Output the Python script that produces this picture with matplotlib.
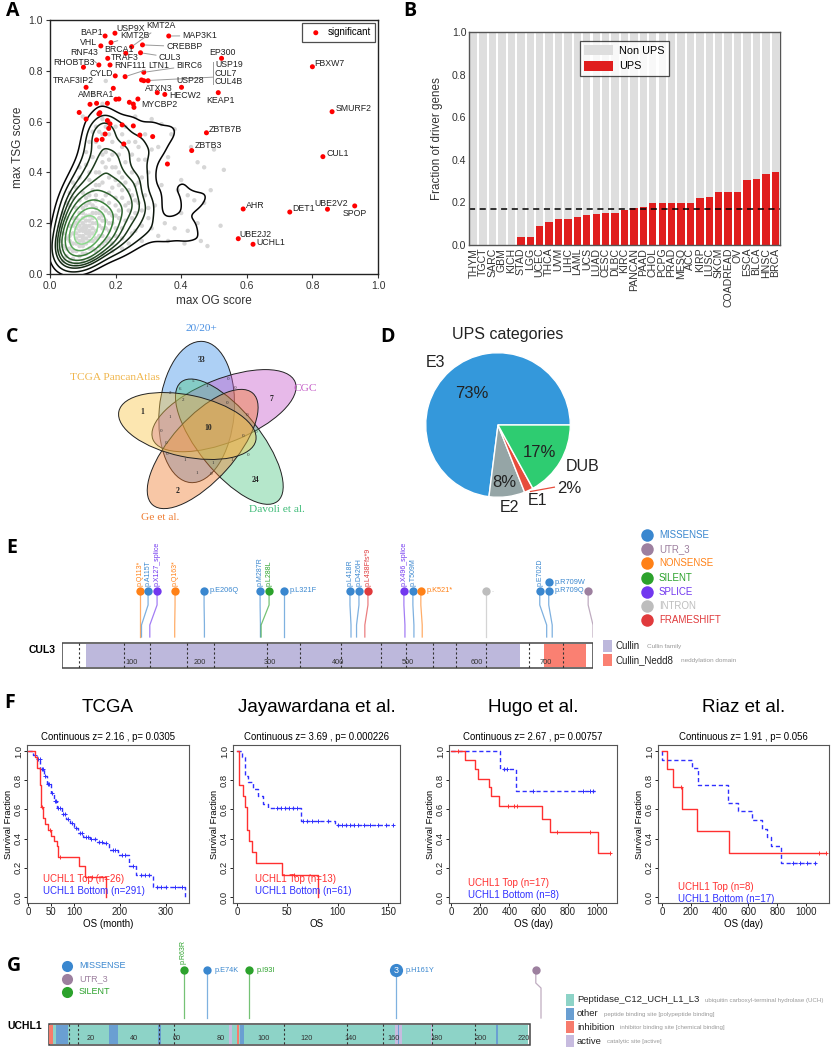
import numpy as np
import matplotlib
matplotlib.use("Agg")
import matplotlib.pyplot as plt
import seaborn as sns
from matplotlib.patches import Ellipse, Rectangle
from matplotlib.colors import LinearSegmentedColormap

plt.rcParams['font.family'] = ['Liberation Sans', 'DejaVu Sans']
plt.rcParams['axes.linewidth'] = 0.8

# ======================= DATA =======================
# ---- Panel A: OG / TSG scores of UPS genes ----
other_genes_xy = [
    (0.05,0.10),(0.06,0.13),(0.07,0.09),(0.07,0.16),(0.08,0.12),(0.08,0.20),(0.09,0.15),(0.09,0.24),
    (0.10,0.11),(0.10,0.18),(0.10,0.22),(0.11,0.14),(0.11,0.19),(0.11,0.27),(0.12,0.16),(0.12,0.21),
    (0.12,0.10),(0.13,0.18),(0.13,0.24),(0.13,0.13),(0.14,0.20),(0.14,0.29),(0.15,0.15),(0.15,0.22),
    (0.16,0.18),(0.16,0.26),(0.17,0.13),(0.17,0.21),(0.18,0.17),(0.18,0.24),(0.06,0.19),(0.07,0.22),
    (0.08,0.26),(0.09,0.29),(0.10,0.32),(0.11,0.08),(0.12,0.06),(0.09,0.07),(0.14,0.09),(0.15,0.11),
    (0.19,0.20),(0.20,0.15),(0.20,0.27),(0.21,0.22),(0.22,0.18),(0.13,0.33),(0.15,0.35),(0.12,0.37),
    (0.17,0.31),(0.19,0.34),(0.10,0.14),(0.11,0.23),(0.12,0.19),(0.13,0.16),(0.14,0.24),(0.09,0.19),
    (0.10,0.26),(0.08,0.16),(0.12,0.28),(0.16,0.21),(0.10,0.17),(0.105,0.19),(0.095,0.175),(0.11,0.165),
    (0.10,0.20),(0.06,0.15),(0.07,0.12),(0.07,0.19),(0.08,0.14),(0.08,0.18),(0.08,0.22),(0.09,0.11),
    (0.09,0.13),(0.09,0.17),(0.09,0.21),(0.10,0.13),(0.10,0.15),(0.10,0.24),(0.11,0.12),(0.11,0.16),
    (0.11,0.18),(0.11,0.21),(0.12,0.13),(0.12,0.15),(0.12,0.17),(0.12,0.23),(0.13,0.20),(0.13,0.22),
    (0.13,0.27),(0.14,0.14),(0.14,0.17),(0.14,0.26),(0.15,0.19),(0.15,0.24),(0.16,0.15),(0.16,0.23),
    (0.17,0.18),(0.17,0.25),(0.18,0.20),(0.19,0.23),(0.05,0.14),(0.06,0.10),(0.07,0.06),(0.08,0.09),
    (0.10,0.08),(0.13,0.10),(0.16,0.12),(0.18,0.14),(0.20,0.18),(0.21,0.25),(0.14,0.31),(0.16,0.29),
    (0.18,0.28),(0.12,0.31),(0.11,0.30),(0.15,0.40),(0.16,0.47),(0.14,0.52),(0.15,0.56),(0.17,0.42),
    (0.18,0.45),(0.20,0.37),(0.22,0.33),(0.24,0.28),(0.26,0.24),
    (0.14,0.40),(0.16,0.44),(0.18,0.38),(0.20,0.42),(0.15,0.50),(0.17,0.48),(0.13,0.46),
    (0.12,0.52),(0.16,0.55),(0.14,0.58),(0.19,0.52),(0.21,0.47),(0.22,0.38),(0.24,0.33),(0.23,0.44),
    (0.25,0.40),(0.26,0.29),(0.27,0.36),(0.28,0.25),(0.25,0.22),(0.23,0.27),(0.29,0.31),(0.30,0.22),
    (0.31,0.18),(0.27,0.45),(0.24,0.52),(0.18,0.60),(0.20,0.58),(0.22,0.55),(0.11,0.43),(0.09,0.38),
    (0.08,0.34),(0.07,0.30),(0.06,0.27),(0.05,0.22),(0.04,0.16),(0.26,0.17),(0.24,0.12),(0.22,0.10),
    (0.19,0.09),(0.28,0.13),(0.33,0.15),(0.32,0.27),(0.30,0.40),
    (0.20,0.30),(0.21,0.35),(0.22,0.30),(0.23,0.21),(0.24,0.25),(0.25,0.31),(0.26,0.35),(0.27,0.28),
    (0.28,0.38),(0.27,0.50),(0.25,0.47),(0.22,0.50),(0.19,0.47),(0.18,0.55),(0.17,0.58),(0.16,0.61),
    (0.13,0.56),(0.11,0.48),(0.09,0.42),(0.07,0.36),(0.06,0.32),(0.05,0.28),(0.04,0.24),(0.03,0.19),
    (0.03,0.13),(0.04,0.11),(0.05,0.07),(0.06,0.05),(0.08,0.04),(0.10,0.05),(0.13,0.06),(0.16,0.08),
    (0.19,0.12),(0.22,0.14),(0.25,0.16),(0.28,0.19),(0.30,0.26),(0.29,0.45),(0.26,0.52),(0.23,0.58),
    (0.20,0.23),(0.18,0.32),(0.16,0.36),(0.14,0.35),(0.12,0.40),(0.21,0.40),(0.23,0.36),(0.19,0.42),
    (0.35,0.20),(0.36,0.13),(0.38,0.18),
    (0.40,0.24),(0.42,0.17),(0.44,0.29),(0.46,0.13),(0.48,0.11),(0.45,0.44),(0.47,0.42),(0.50,0.49),
    (0.53,0.41),(0.43,0.50),(0.38,0.57),(0.37,0.55),(0.34,0.59),(0.33,0.50),(0.36,0.46),(0.40,0.37),
    (0.39,0.33),(0.34,0.35),(0.42,0.31),(0.31,0.49),(0.29,0.55),(0.17,0.76),(0.13,0.71),(0.16,0.67),
    (0.26,0.62),(0.31,0.61),(0.10,0.62),(0.04,0.05),(0.03,0.09),(0.45,0.20),(0.41,0.12),(0.49,0.33),
    (0.52,0.19),(0.47,0.28),
]
sig_genes = ['BAP1', 'USP9X', 'MAP3K1', 'KMT2B', 'VHL', 'KMT2A', 'CREBBP', 'CUL3', 'BRCA1', 'TRAF3',
             'RNF43', 'RNF111', 'RHOBTB3', 'CYLD', 'LTN1', 'BIRC6', 'USP19', 'CUL7', 'CUL4B', 'USP28',
             'EP300', 'FBXW7', 'KEAP1', 'ATXN3', 'HECW2', 'TRAF3IP2', 'AMBRA1', 'MYCBP2',
             '', '', '', '', '', '', '', '', '', '', '', '', '', '', '', '', '', '', '', '', '', '', '', '',
             'ZBTB7B', 'ZBTB3', 'SMURF2', 'CUL1', 'AHR', 'DET1', 'UBE2V2', 'SPOP', 'UBE2J2', 'UCHL1']
sig_x = [0.168, 0.198, 0.362, 0.186, 0.155, 0.249, 0.282, 0.276, 0.231, 0.176,
         0.149, 0.183, 0.102, 0.199, 0.229, 0.286, 0.279, 0.286, 0.299, 0.401,
         0.523, 0.800, 0.513, 0.327, 0.350, 0.110, 0.193, 0.268,
         0.201, 0.210, 0.242, 0.254, 0.256, 0.122, 0.142, 0.175, 0.089, 0.110, 0.149, 0.152,
         0.175, 0.183, 0.220, 0.254, 0.179, 0.168, 0.274, 0.313, 0.142, 0.159, 0.225, 0.358,
         0.477, 0.432, 0.860, 0.832, 0.589, 0.731, 0.846, 0.929, 0.574, 0.619]
sig_y = [0.937, 0.948, 0.937, 0.911, 0.898, 0.895, 0.902, 0.871, 0.869, 0.849,
         0.823, 0.823, 0.814, 0.780, 0.777, 0.794, 0.764, 0.761, 0.761, 0.735,
         0.849, 0.816, 0.714, 0.714, 0.707, 0.735, 0.731, 0.689,
         0.688, 0.689, 0.676, 0.669, 0.656, 0.668, 0.672, 0.672, 0.636, 0.610, 0.630, 0.635,
         0.604, 0.591, 0.587, 0.583, 0.573, 0.551, 0.547, 0.541, 0.528, 0.530, 0.512, 0.433,
         0.556, 0.486, 0.639, 0.462, 0.256, 0.244, 0.255, 0.268, 0.139, 0.117]

# ---- Panel B: fraction of UPS driver genes per cancer type ----
cancer_types = ['THYM', 'TGCT', 'SARC', 'GBM', 'KICH', 'STAD', 'LGG', 'UCEC', 'THCA', 'UVM', 'LIHC',
                'LAML', 'UCS', 'LUAD', 'CESC', 'DLBC', 'KIRC', 'PANCAN', 'PAAD', 'CHOL', 'PCPG', 'PRAD',
                'MESO', 'ACC', 'KIRP', 'LUSC', 'SKCM', 'COADREAD', 'OV', 'ESCA', 'BLCA', 'HNSC', 'BRCA']
ups_fraction = [0, 0, 0, 0, 0, 0.039, 0.039, 0.089, 0.109, 0.122, 0.122,
                0.133, 0.141, 0.147, 0.152, 0.152, 0.164, 0.172, 0.178, 0.197, 0.197, 0.197,
                0.197, 0.197, 0.219, 0.225, 0.247, 0.247, 0.247, 0.305, 0.308, 0.331, 0.341]
ups_mean_line = 0.167

# ---- Panel C: Venn of driver-gene sources ----
venn_sets = ['20/20+', 'CGC', 'Davoli et al.', 'Ge et al.', 'TCGA PancanAtlas']
venn_unique_counts = [33, 7, 24, 2, 1]
venn_all_count = 10
venn_overlap_counts = [5, 1, 0, 0, 2, 6, 2, 1, 0, 0, 0, 0, 0, 0, 0, 1, 1, 1, 0, 1, 0, 1]

# ---- Panel D: UPS categories ----
ups_categories = ['E3', 'E2', 'E1', 'DUB']
ups_category_pct = [73, 8, 2, 17]

# ---- Panel E: CUL3 mutations ----
cul3_length = 768
cul3_domain_names = ['Cullin', 'Cullin_Nedd8']
cul3_domain_desc = ['Cullin family', 'neddylation domain']
cul3_domain_start = [35, 697]
cul3_domain_end = [662, 758]
cul3_exon_bounds = [25, 90, 127, 181, 220, 296, 344, 403, 461, 497, 537, 570, 613, 675, 724]
cul3_mut_pos = [113, 115, 127, 163, 206, 287, 288, 321, 418, 426, 438, 496, 509, 521, 613, 701, 709, 709, 768]
cul3_mut_label = ['p.Q113*', 'p.A115T', 'p.X127_splice', 'p.Q163*', 'p.E206Q', 'p.M287R', 'p.L288L',
                  'p.L321F', 'p.L418R', 'p.D426H', 'p.L438Ffs*9', 'p.X496_splice', 'p.T509M', 'p.K521*',
                  '.', 'p.E702D', 'p.R709Q', 'p.R709W', '']
cul3_mut_type = ['NONSENSE', 'MISSENSE', 'SPLICE', 'NONSENSE', 'MISSENSE', 'MISSENSE', 'SILENT',
                 'MISSENSE', 'MISSENSE', 'MISSENSE', 'FRAMESHIFT', 'SPLICE', 'MISSENSE', 'NONSENSE',
                 'INTRON', 'MISSENSE', 'MISSENSE', 'MISSENSE', 'UTR_3']
mut_types = ['MISSENSE', 'UTR_3', 'NONSENSE', 'SILENT', 'SPLICE', 'INTRON', 'FRAMESHIFT']
mut_colors = ['#3a87cf', '#9d809f', '#ff8117', '#2ca22c', '#7238ef', '#bdbdbd', '#e03a3c']

# ---- Panel F: Kaplan-Meier curves (UCHL1 top vs bottom) ----
km_titles = ['TCGA', 'Jayawardana et al.', 'Hugo et al.', 'Riaz et al.']
km_stats = ['Continuous z= 2.16 , p= 0.0305', 'Continuous z= 3.69 , p= 0.000226',
            'Continuous z= 2.67 , p= 0.00757', 'Continuous z= 1.91 , p= 0.056']
km_xlabels = ['OS (month)', 'OS', 'OS (day)', 'OS (day)']
km_top_n = [26, 13, 17, 8]
km_bottom_n = [291, 61, 8, 17]

tcga_top_t = [0, 16, 20, 27, 28, 33, 38, 44, 51, 57, 63, 66, 111, 124, 170]
tcga_top_s = [1.0, 0.96, 0.885, 0.77, 0.615, 0.54, 0.50, 0.46, 0.42, 0.385, 0.35, 0.275, 0.21, 0.14, 0.0]
tcga_top_end = 170
tcga_top_cens = [30, 48, 70, 140]
tcga_bot_t = [0, 10, 20, 27, 34, 41, 49, 56, 63, 73, 82, 91, 100, 109, 120, 134, 150, 163, 177, 195,
              220, 234, 271, 341]
tcga_bot_s = [1.0, 0.97, 0.945, 0.876, 0.83, 0.772, 0.715, 0.657, 0.61, 0.566, 0.535, 0.508, 0.47,
              0.439, 0.41, 0.398, 0.38, 0.37, 0.324, 0.29, 0.209, 0.152, 0.071, 0.0]
tcga_bot_end = 341
tcga_bot_cens = [15, 22, 25, 30, 32, 38, 44, 46, 52, 58, 61, 66, 70, 76, 80, 86, 95, 104, 112, 118,
                 125, 130, 138, 145, 155, 160, 170, 185, 190, 205, 210, 228, 245, 255, 262, 280, 290,
                 300, 320, 335]

jay_top_t = [0, 2.3, 5.6, 7.8, 9.5, 11.8, 14.4, 18.6, 44.8, 80.6]
jay_top_s = [1.0, 0.77, 0.69, 0.615, 0.46, 0.385, 0.31, 0.23, 0.154, 0.0]
jay_top_end = 80.6
jay_top_cens = [57]
jay_bot_t = [0, 4.6, 7.8, 11, 16, 21, 25.8, 30.7, 63.4, 97.7]
jay_bot_s = [1.0, 0.96, 0.83, 0.79, 0.74, 0.69, 0.64, 0.61, 0.52, 0.49]
jay_bot_end = 155
jay_bot_cens = [40, 44, 48, 52, 56, 60, 66, 70, 75, 80, 90, 100, 104, 108, 112, 116, 120, 126, 132,
                140, 148, 155]

hugo_top_t = [0, 96, 164, 183, 263, 272, 331, 621, 678, 1009]
hugo_top_s = [1.0, 0.938, 0.876, 0.81, 0.75, 0.69, 0.622, 0.533, 0.444, 0.298]
hugo_top_end = 1089
hugo_top_cens = [48, 390, 431, 454, 724, 952, 1089]
hugo_bot_t = [0, 336, 445]
hugo_bot_s = [1.0, 0.875, 0.729]
hugo_bot_end = 986
hugo_bot_cens = [365, 385, 560, 905, 950, 975]

riaz_top_t = [0, 37, 79, 137, 241, 465]
riaz_top_s = [1.0, 0.875, 0.75, 0.60, 0.45, 0.30]
riaz_top_end = 1139
riaz_top_cens = [130, 1090, 1139]
riaz_bot_t = [0, 2, 206, 253, 460, 530, 622, 698, 730, 760, 826]
riaz_bot_s = [1.0, 0.941, 0.882, 0.765, 0.647, 0.588, 0.529, 0.469, 0.41, 0.35, 0.235]
riaz_bot_end = 1070
riaz_bot_cens = [911, 958, 1005, 1062]

# ---- Panel G: UCHL1 mutations ----
uchl1_length = 223
uchl1_domain = ('Peptidase_C12_UCH_L1_L3', 'ubiquitin carboxyl-terminal hydrolase (UCH)', 2, 222)
uchl1_site_names = ['other', 'inhibition', 'active']
uchl1_site_desc = ['peptide binding site [polypeptide binding]', 'inhibitor binding site [chemical binding]',
                   'catalytic site [active]']
uchl1_site_type = ['inhibition', 'other', 'other', 'other', 'active', 'inhibition', 'other', 'active',
                   'other', 'active', 'other']
uchl1_site_start = [1.0, 4.2, 28.6, 51.2, 83.9, 87.6, 89.1, 160.8, 161.8, 177.0, 207.3]
uchl1_site_end = [2.6, 9.5, 32.8, 52.4, 85.6, 88.8, 90.8, 163.7, 162.6, 177.8, 208.2]
uchl1_exon_bounds = [10.2, 14.3, 51.5, 58.6, 109.2, 138.5, 155.1, 177.7, 197.6]
uchl1_mut_pos = [63, 74, 93, 161, 228]
uchl1_mut_count = [1, 1, 1, 3, 1]
uchl1_mut_label = ['p.R63R', 'p.E74K', 'p.I93I', 'p.H161Y', '']
uchl1_mut_type = ['SILENT', 'MISSENSE', 'SILENT', 'MISSENSE', 'UTR_3']

# ======================= FIGURE =======================
W, H = 832, 1050
fig = plt.figure(figsize=(W / 100, H / 100), dpi=100)


def px_axes(l, t, r, b):
    return fig.add_axes([l / W, 1 - b / H, (r - l) / W, (b - t) / H])


def ftext(x, y, s, **kw):
    return fig.text(x / W, 1 - y / H, s, **kw)


def mcolor(t):
    return mut_colors[mut_types.index(t)]


# ---------------- Panel A ----------------
axA = px_axes(50, 20, 378, 274)
gx = np.array([p[0] for p in other_genes_xy])
gy = np.array([p[1] for p in other_genes_xy])
axA.scatter(gx, gy, s=10, color='#d6d6d6', edgecolors='none', zorder=1)
kcmap = LinearSegmentedColormap.from_list('kd', ['#050505', '#244d24', '#3f8f3f', '#86d686', '#c2f5c2'])
sns.kdeplot(x=gx, y=gy, ax=axA, levels=10, cmap=kcmap, linewidths=1.1, zorder=2, bw_adjust=0.7,
            thresh=0.12)
axA.scatter(sig_x, sig_y, s=13, color='#ff0000', edgecolors='none', zorder=4, label='significant')

a_labels = {
    'BAP1': (0.160, 0.951, 'right', False), 'USP9X': (0.203, 0.967, 'left', False),
    'KMT2A': (0.294, 0.978, 'left', True), 'KMT2B': (0.215, 0.938, 'left', True),
    'VHL': (0.144, 0.911, 'right', False), 'MAP3K1': (0.404, 0.938, 'left', True),
    'BRCA1': (0.165, 0.885, 'left', False), 'CREBBP': (0.355, 0.895, 'left', True),
    'RNF43': (0.147, 0.871, 'right', True), 'TRAF3': (0.186, 0.853, 'left', False),
    'CUL3': (0.332, 0.853, 'left', True), 'EP300': (0.485, 0.871, 'left', False),
    'RHOBTB3': (0.137, 0.832, 'right', False), 'RNF111': (0.195, 0.820, 'left', False),
    'LTN1': (0.300, 0.820, 'left', True), 'BIRC6': (0.386, 0.820, 'left', True),
    'USP19': (0.503, 0.823, 'left', False), 'CUL7': (0.503, 0.791, 'left', False),
    'CUL4B': (0.503, 0.759, 'left', False), 'CYLD': (0.193, 0.790, 'right', False),
    'TRAF3IP2': (0.135, 0.760, 'right', False), 'USP28': (0.386, 0.760, 'left', False),
    'ATXN3': (0.289, 0.731, 'left', False), 'HECW2': (0.363, 0.702, 'left', False),
    'KEAP1': (0.477, 0.685, 'left', False), 'AMBRA1': (0.196, 0.705, 'right', False),
    'MYCBP2': (0.277, 0.669, 'left', False), 'FBXW7': (0.807, 0.827, 'left', False),
    'SMURF2': (0.870, 0.652, 'left', False), 'ZBTB7B': (0.485, 0.570, 'left', False),
    'ZBTB3': (0.442, 0.504, 'left', False), 'CUL1': (0.843, 0.475, 'left', False),
    'AHR': (0.599, 0.268, 'left', False), 'DET1': (0.739, 0.256, 'left', False),
    'UBE2V2': (0.807, 0.278, 'left', False), 'SPOP': (0.893, 0.239, 'left', False),
    'UBE2J2': (0.576, 0.156, 'left', False), 'UCHL1': (0.629, 0.123, 'left', False),
}
for name, x, y in zip(sig_genes, sig_x, sig_y):
    if not name:
        continue
    tx, ty, ha, line = a_labels[name]
    if line:
        axA.annotate(name, xy=(x, y), xytext=(tx, ty), ha=ha, va='center', fontsize=6.3, color='#222',
                     arrowprops=dict(arrowstyle='-', color='#9a9a9a', lw=0.7, shrinkA=0, shrinkB=2), zorder=5)
    else:
        axA.text(tx, ty, name, ha=ha, va='center', fontsize=6.3, color='#222', zorder=5)
axA.plot([0.497, 0.497], [0.835, 0.747], color='#9a9a9a', lw=0.7, zorder=3)
axA.plot([0.497, 0.302], [0.775, 0.762], color='#9a9a9a', lw=0.7, zorder=3)
axA.set_xlim(0, 1)
axA.set_ylim(0, 1)
axA.set_xticks(np.arange(0, 1.01, 0.2))
axA.set_yticks(np.arange(0, 1.01, 0.2))
axA.set_xticklabels([f'{v:.1f}' for v in np.arange(0, 1.01, 0.2)])
axA.set_yticklabels([f'{v:.1f}' for v in np.arange(0, 1.01, 0.2)])
axA.tick_params(labelsize=7.5, length=3, width=0.8, pad=2, colors='#333')
axA.set_xlabel('max OG score', fontsize=8.5, color='#333', labelpad=3)
axA.set_ylabel('max TSG score', fontsize=8.5, color='#333', labelpad=3)
for s in axA.spines.values():
    s.set_color('#222')
    s.set_linewidth(1.0)
axA.legend(loc='upper right', fontsize=7, frameon=True, fancybox=False, edgecolor='#222',
           handletextpad=0.2, borderpad=0.45, borderaxespad=0.3, markerscale=1.0).get_frame().set_linewidth(0.9)

# ---------------- Panel B ----------------
axB = px_axes(469, 32, 780, 245)
xb = np.arange(len(cancer_types))
frac = np.array(ups_fraction)
axB.bar(xb, 1 - frac, bottom=frac, width=0.78, color='#dedede', linewidth=0, label='Non UPS')
axB.bar(xb, frac, width=0.78, color='#e01e1e', linewidth=0, label='UPS')
axB.axhline(ups_mean_line, color='black', ls=(0, (4, 3)), lw=1.1)
axB.set_xlim(-0.5, len(cancer_types) - 0.5)
axB.set_ylim(0, 1)
axB.set_xticks(xb)
axB.set_xticklabels(cancer_types, rotation=90, fontsize=7.6, color='#333')
axB.set_yticks(np.arange(0, 1.01, 0.2))
axB.set_yticklabels([f'{v:.1f}' for v in np.arange(0, 1.01, 0.2)], fontsize=7.6, color='#333')
axB.tick_params(length=0, pad=2)
axB.set_ylabel('Fraction of driver genes', fontsize=8.4, color='#333', labelpad=6)
for s in axB.spines.values():
    s.set_color('#555')
    s.set_linewidth(1.0)
legB = axB.legend(loc='upper center', bbox_to_anchor=(0.5, 0.985), fontsize=7.8, frameon=True, fancybox=False,
                  edgecolor='#222', handlelength=2.6, handleheight=1.0, borderpad=0.45, labelspacing=0.45,
                  handletextpad=0.6)
legB.get_frame().set_linewidth(0.9)

# ---------------- Panel C (Venn) ----------------
axC = px_axes(0, 300, 400, 600)
axC.set_xlim(0, 1200)
axC.set_ylim(900, 0)
axC.axis('off')
venn_shapes = {  # center, major, minor, angle (screen ccw), fill, label colour, label pos
    '20/20+': ((590, 336), 425, 225, 85, '#3d8fe8', '#4a90e2', (605, 85)),
    'CGC': ((672, 332), 460, 190, 22, '#c65acc', '#c45bc7', (917, 265)),
    'Davoli et al.': ((688, 425), 460, 185, -51, '#4fc885', '#3dbb77', (830, 630)),
    'Ge et al.': ((608, 447), 450, 190, 48, '#f07a2c', '#ee7b30', (480, 652)),
    'TCGA PancanAtlas': ((562, 378), 420, 185, -12, '#f8c444', '#f0b54a', (345, 232)),
}
for name in venn_sets:
    (cx, cy), maj, mnr, ang, fc, lc, lp = venn_shapes[name]
    axC.add_patch(Ellipse((cx, cy), maj, mnr, angle=-ang, facecolor=fc, alpha=0.42, edgecolor='none'))
    axC.add_patch(Ellipse((cx, cy), maj, mnr, angle=-ang, facecolor='none', edgecolor='#222', lw=0.7))
    axC.text(lp[0], lp[1], name, color=lc, fontsize=8.2, ha='center', va='center',
             family=['Liberation Serif', 'DejaVu Serif'])
venn_unique_xy = [(605, 180), (815, 297), (765, 540), (533, 572), (428, 335)]
for (x, y), v in zip(venn_unique_xy, venn_unique_counts):
    axC.text(x, y, str(v), fontsize=5.5, ha='center', va='center', color='#222',
             family=['Liberation Serif', 'DejaVu Serif'], fontweight='bold')
axC.text(625, 383, str(venn_all_count), fontsize=5.5, ha='center', va='center', color='#222',
         family=['Liberation Serif', 'DejaVu Serif'], fontweight='bold')
venn_overlap_xy = [(580, 243), (620, 258), (685, 237), (705, 265), (510, 280), (540, 268), (550, 300),
                   (510, 350), (680, 310), (740, 345), (482, 393), (730, 408), (768, 395), (498, 428),
                   (500, 462), (555, 480), (638, 490), (695, 480), (745, 465), (590, 520), (632, 523),
                   (660, 530)]
for (x, y), v in zip(venn_overlap_xy, venn_overlap_counts):
    axC.text(x, y, str(v), fontsize=3.6, ha='center', va='center', color='#333',
             family=['Liberation Serif', 'DejaVu Serif'])

# ---------------- Panel D (pie) ----------------
axD = px_axes(425, 352, 571, 498)
pie_colors = ['#3498db', '#95a5a6', '#e74c3c', '#2ecc71']
axD.pie(ups_category_pct, colors=pie_colors, startangle=0, counterclock=True, radius=1,
        wedgeprops=dict(edgecolor='white', linewidth=1.0))
axD.set_xlim(-1.01, 1.01)
axD.set_ylim(-1.01, 1.01)
axD.set_aspect('equal')
d_name_pos = {'E3': (-0.86, 0.86), 'E2': (0.16, -1.14), 'E1': (0.55, -1.05), 'DUB': (1.17, -0.57)}
d_pct_pos = {'E3': (-0.36, 0.44), 'E2': (0.09, -0.80), 'E1': (0.98, -0.88), 'DUB': (0.57, -0.38)}
for cat, p in zip(ups_categories, ups_category_pct):
    axD.text(*d_name_pos[cat], cat, fontsize=11.5, ha='center', va='center', color='#222')
    axD.text(*d_pct_pos[cat], f'{p}%', fontsize=12, ha='center', va='center', color='#222')
axD.plot([0.45, 0.78], [-0.92, -0.86], color='#e74c3c', lw=0.9, clip_on=False)
ftext(508, 335, 'UPS categories', fontsize=11.5, ha='center', va='center', color='#222')

# ---------------- Panel E (CUL3) ----------------
axE = px_axes(62, 530, 593, 680)
axE.set_xlim(0, cul3_length)
axE.set_ylim(680, 530)
axE.axis('off')
axE.add_patch(Rectangle((0, 643), cul3_length, 25, facecolor='white', edgecolor='#444', lw=1.1, zorder=1))
dom_cols = ['#bdb8dc', '#fa8072']
for s0, s1, c in zip(cul3_domain_start, cul3_domain_end, dom_cols):
    axE.add_patch(Rectangle((s0, 644), s1 - s0, 23, facecolor=c, edgecolor='none', zorder=2))
for xb_ in cul3_exon_bounds:
    axE.plot([xb_, xb_], [643, 668], color='#333', lw=0.8, ls=(0, (2, 2)), zorder=3)
for t in range(100, cul3_length, 100):
    axE.text(t, 662, str(t), fontsize=5.3, ha='center', va='center', color='#333', zorder=4)

cul3_head_dx = [0, 9.5, 10.5, 0.5, -0.5, -0.5, 11.5, 0, -1.5, 3.5, 4.5, -1.5, -1.5, -2, 0, -10, -5, -5, -7]
cul3_head_level = [0] * 17 + [1, 0]
cul3_label_vertical = [True, True, True, True, False, True, True, False, True, True, True, True, True,
                       False, False, True, False, False, False]
for pos, dx, lev, lab, typ, vert in zip(cul3_mut_pos, cul3_head_dx, cul3_head_level, cul3_mut_label,
                                         cul3_mut_type, cul3_label_vertical):
    c = mcolor(typ)
    hx = pos + dx
    hy = 591 - 9 * lev
    if lev == 0:
        axE.plot([hx, hx, pos, pos], [hy, 605, 625, 637], color=c, lw=0.9, alpha=0.65, zorder=2)
    axE.plot([hx], [hy], 'o', ms=6, color=c, mec='none', zorder=5)
    if vert:
        axE.text(hx, hy - 5, lab, rotation=90, ha='center', va='bottom', fontsize=5, color=c)
    else:
        axE.text(hx + 8, hy, lab, ha='left', va='center', fontsize=5.3, color=c)
ftext(56, 650, 'CUL3', fontsize=7.5, fontweight='bold', ha='right', va='center')

# ---------------- Panel F (KM curves) ----------------
f_boxes = [(27, 745, 189, 903), (233, 745, 400, 903), (449, 745, 617, 903), (658, 745, 829, 903)]
f_xlims = [(-2.2, 350), (-4.0, 162), (-13.7, 1137), (-27.8, 1160)]
f_xticks = [[0, 50, 100, 200, 300], [0, 50, 100, 150], [0, 200, 400, 600, 800, 1000],
            [0, 200, 400, 600, 800, 1000]]
f_leg = [(0.10, 0.152, 0.076), (0.13, 0.152, 0.076), (0.113, 0.128, 0.050), (0.117, 0.099, 0.027)]
km_data = [
    (tcga_top_t, tcga_top_s, tcga_top_end, tcga_top_cens, tcga_bot_t, tcga_bot_s, tcga_bot_end, tcga_bot_cens),
    (jay_top_t, jay_top_s, jay_top_end, jay_top_cens, jay_bot_t, jay_bot_s, jay_bot_end, jay_bot_cens),
    (hugo_top_t, hugo_top_s, hugo_top_end, hugo_top_cens, hugo_bot_t, hugo_bot_s, hugo_bot_end, hugo_bot_cens),
    (riaz_top_t, riaz_top_s, riaz_top_end, riaz_top_cens, riaz_bot_t, riaz_bot_s, riaz_bot_end, riaz_bot_cens),
]
RED, BLUE = '#ff3030', '#3030ff'


def km_draw(ax, t, s, t_end, cens, color, dashed):
    tt = list(t) + [t_end]
    ss = list(s) + [s[-1]]
    ax.step(tt, ss, where='post', color=color, lw=1.0, ls=(0, (3, 2)) if dashed else '-')
    ta = np.array(t)
    sa = np.array(s)
    cs = [sa[np.searchsorted(ta, c, side='right') - 1] for c in cens]
    ax.plot(cens, cs, ls='none', marker='+', ms=3.5, mew=0.7, color=color)


for i, box in enumerate(f_boxes):
    ax = px_axes(*box)
    tt, ts, te, tc, bt, bs, be, bc = km_data[i]
    km_draw(ax, bt, bs, be, bc, BLUE, True)
    km_draw(ax, tt, ts, te, tc, RED, False)
    ax.set_xlim(*f_xlims[i])
    ax.set_ylim(-0.041, 1.041)
    ax.set_xticks(f_xticks[i])
    ax.set_xticklabels([str(v) for v in f_xticks[i]], fontsize=6.9)
    ax.set_yticks(np.arange(0, 1.01, 0.2))
    ax.set_yticklabels([f'{v:.1f}' for v in np.arange(0, 1.01, 0.2)], rotation=90, va='center', fontsize=6.8)
    ax.tick_params(length=2, width=0.7, pad=0.8, colors='#222')
    for s in ax.spines.values():
        s.set_color('#555')
        s.set_linewidth(0.8)
    ax.set_xlabel(km_xlabels[i], fontsize=7, labelpad=1.5)
    ax.set_ylabel('Survival Fraction', fontsize=6.7)
    ax.yaxis.set_label_coords(-14.0 / (box[2] - box[0]), 0.5)
    lx, ly1, ly2 = f_leg[i]
    ax.text(lx, ly1, f'UCHL1 Top (n={km_top_n[i]})', transform=ax.transAxes, fontsize=7, color=RED,
            ha='left', va='center')
    ax.text(lx, ly2, f'UCHL1 Bottom (n={km_bottom_n[i]})', transform=ax.transAxes, fontsize=7, color=BLUE,
            ha='left', va='center')
    cx = (box[0] + box[2]) / 2
    ftext(cx, 708, km_titles[i], fontsize=13.5, ha='center', va='center')
    ftext(cx, 737, km_stats[i], fontsize=6.9, ha='center', va='center')

# ---------------- Panel G (UCHL1) ----------------
axG = px_axes(47, 940, 567, 1050)
axG.set_xlim(0, 240)
axG.set_ylim(1050, 940)
axG.axis('off')
axG.add_patch(Rectangle((1, 1024), uchl1_length - 1, 21, facecolor='white', edgecolor='#444', lw=1.1, zorder=1))
axG.add_patch(Rectangle((uchl1_domain[2], 1025), uchl1_domain[3] - uchl1_domain[2], 19,
                        facecolor='#8dd3c7', edgecolor='none', zorder=2))
site_cols = {'other': '#6a9fd2', 'inhibition': '#f77b6c', 'active': '#c7bbdf'}
for typ, s0, s1 in zip(uchl1_site_type, uchl1_site_start, uchl1_site_end):
    axG.add_patch(Rectangle((s0, 1025), s1 - s0, 19, facecolor=site_cols[typ], edgecolor='none', zorder=3))
for xb_ in uchl1_exon_bounds:
    axG.plot([xb_, xb_], [1024, 1045], color='#333', lw=0.8, ls=(0, (2, 2)), zorder=4)
for t in range(20, uchl1_length, 20):
    axG.text(t, 1038, str(t), fontsize=5.3, ha='center', va='center', color='#333', zorder=5)

uchl1_head_dx = [0, 0, 0, 0, -2.4]
for pos, dx, cnt, lab, typ in zip(uchl1_mut_pos, uchl1_head_dx, uchl1_mut_count, uchl1_mut_label,
                                   uchl1_mut_type):
    c = mcolor(typ)
    hx = pos + dx
    axG.plot([hx, hx, pos, pos], [970, 983, 988, 1018], color=c, lw=0.9, alpha=0.65, zorder=2)
    ms = 6 if cnt == 1 else 9.5
    axG.plot([hx], [970], 'o', ms=ms, color=c, mec='none', zorder=5)
    if cnt > 1:
        axG.text(hx, 970.5, str(cnt), fontsize=6.5, color='white', ha='center', va='center', zorder=6)
    if typ == 'SILENT' and pos < 70:
        axG.text(hx, 964, lab, rotation=90, ha='center', va='bottom', fontsize=5, color=c)
    elif lab:
        axG.text(hx + (3.5 if cnt == 1 else 4.5), 970, lab, ha='left', va='center', fontsize=5.3, color=c)
ftext(42, 1026, 'UCHL1', fontsize=7.5, fontweight='bold', ha='right', va='center')

# ---------------- overlay: legends & panel letters ----------------
ov = px_axes(0, 0, W, H)
ov.set_xlim(0, W)
ov.set_ylim(H, 0)
ov.axis('off')

# panel E legends
for k, t in enumerate(mut_types):
    y = 535 + 14.2 * k
    ov.plot([647], [y], 'o', ms=9, color=mut_colors[k], mec='none')
    ov.text(659, y, t, fontsize=7, color=mut_colors[k], ha='left', va='center')
for k, (nm, ds, c) in enumerate(zip(cul3_domain_names, cul3_domain_desc, dom_cols)):
    y = 646 + 14 * k
    ov.add_patch(Rectangle((603, y - 6), 9, 12, facecolor=c, edgecolor='none'))
    tn = ov.text(616, y, nm, fontsize=7, ha='left', va='center', color='#222')
    ov.annotate(ds, xy=(1, 0.45), xycoords=tn, xytext=(5, 0), textcoords='offset points',
                fontsize=4.6, ha='left', va='center', color='#999')

# panel G legends
for k, t in enumerate(['MISSENSE', 'UTR_3', 'SILENT']):
    y = 966 + 13 * k
    ov.plot([67], [y], 'o', ms=8, color=mcolor(t), mec='none')
    ov.text(79, y, t, fontsize=6.5, color=mcolor(t), ha='left', va='center')
g_leg = [(uchl1_domain[0], uchl1_domain[1], '#8dd3c7')] + \
        [(n, d, site_cols[n]) for n, d in zip(uchl1_site_names, uchl1_site_desc)]
for k, (nm, ds, c) in enumerate(g_leg):
    y = 1000 + 13.7 * k
    ov.add_patch(Rectangle((566, y - 6), 8, 12, facecolor=c, edgecolor='none'))
    tn = ov.text(577, y, nm, fontsize=6.8, ha='left', va='center', color='#222')
    ov.annotate(ds, xy=(1, 0.45), xycoords=tn, xytext=(4, 0), textcoords='offset points',
                fontsize=4.4, ha='left', va='center', color='#999')

for L, (x, y) in zip('ABCDEFG', [(13, 11), (410, 11), (12, 337), (388, 337), (12, 548), (10, 703), (14, 966)]):
    ov.text(x, y, L, fontsize=14, fontweight='bold', ha='center', va='center',
            family=['Open Sans', 'DejaVu Sans'])

fig.savefig('out.png', dpi=100)
